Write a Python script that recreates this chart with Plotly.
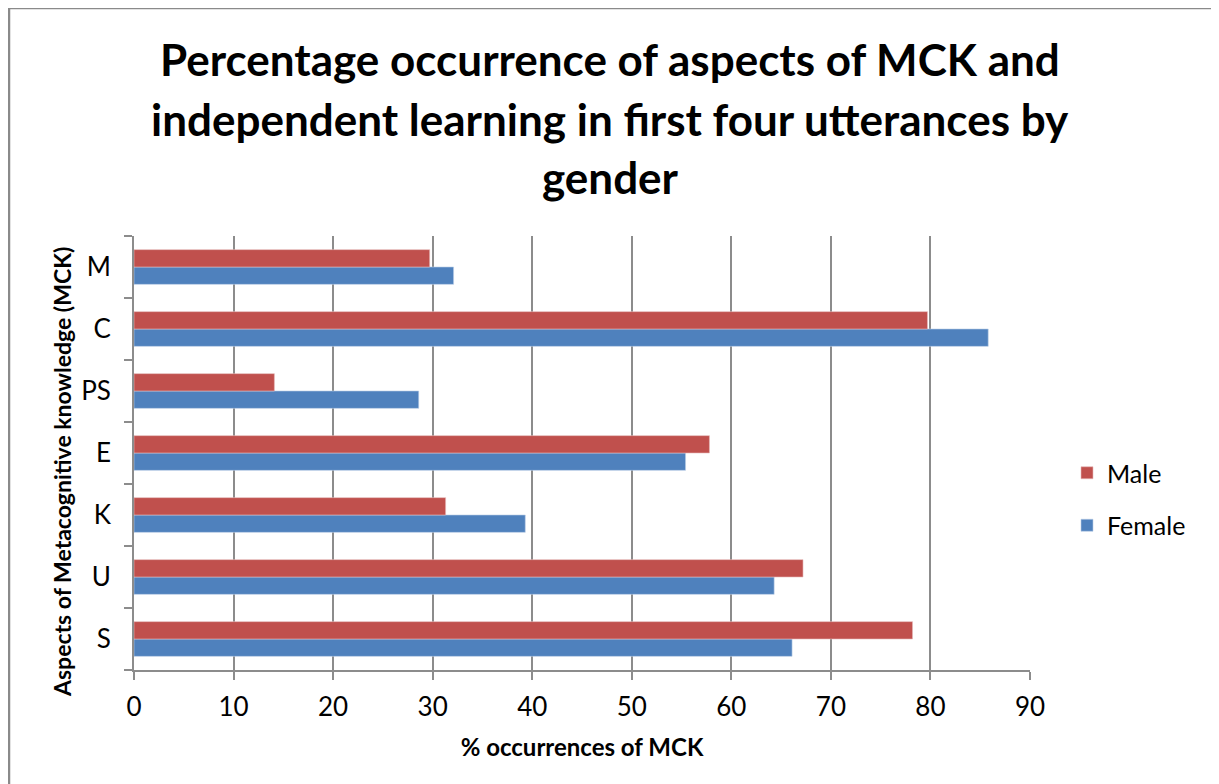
import plotly.graph_objects as go

aspects = ["S", "U", "K", "E", "PS", "C", "M"]
female = [66.1, 64.3, 39.3, 55.4, 28.6, 85.8, 32.1]
male = [78.2, 67.2, 31.3, 57.8, 14.1, 79.7, 29.7]
x_ticks = [0, 10, 20, 30, 40, 50, 60, 70, 80, 90]

FEMALE_COLOR = "#4F81BD"
MALE_COLOR = "#C0504D"
GRID = "#8C8C8C"
FONT = "Lato, Carlito, 'Open Sans', sans-serif"

# plot area in figure pixels (page body adds an 8px offset)
L, R, T, B = 126, 1022, 228, 662
W, H = R - L, B - T


def px(x):
    return (x - L) / W


def py(y):
    return (B - y) / H


fig = go.Figure()
fig.add_trace(go.Bar(
    y=aspects, x=female, orientation="h", name="Female",
    marker_color=FEMALE_COLOR, marker_line=dict(color="#B9CDE5", width=0.6),
    legendgroup="f", legendrank=2))
fig.add_trace(go.Bar(
    y=aspects, x=male, orientation="h", name="Male",
    marker_color=MALE_COLOR, marker_line=dict(color="#E6B9B8", width=0.6),
    legendgroup="m", legendrank=1))

title_lines = [
    "Percentage occurrence of aspects of MCK and",
    "independent learning in first four utterances by",
    "gender",
]
title_y = [51, 111, 169]
for line, ty in zip(title_lines, title_y):
    fig.add_annotation(
        text=f"<b>{line}</b>", xref="paper", yref="paper",
        x=px(602), y=py(ty), showarrow=False,
        xanchor="center", yanchor="middle",
        font=dict(family=FONT, size=44, color="black"))

fig.add_annotation(
    text="<b>Aspects of Metacognitive knowledge (MCK)</b>", xref="paper", yref="paper",
    x=px(54), y=py(464), showarrow=False, textangle=-90,
    xanchor="center", yanchor="middle", font=dict(family=FONT, size=23, color="black"))

# outer chart frame
fig.add_shape(type="rect", xref="paper", yref="paper",
              x0=px(1), x1=px(1205), y0=py(800), y1=py(0),
              line=dict(color="#8A8A8A", width=2.5), layer="below")

fig.update_layout(
    width=1211, height=776,
    barmode="group", bargap=0.44, bargroupgap=0,
    plot_bgcolor="white", paper_bgcolor="white",
    margin=dict(l=L, r=1211 - R, t=T, b=776 - B),
    font=dict(family=FONT, size=26, color="black"),
    legend=dict(
        x=px(1059), y=py(491), xanchor="left", yanchor="middle",
        traceorder="grouped", tracegroupgap=17,
        font=dict(size=25), itemwidth=30),
    xaxis=dict(
        range=[0, 90], tickvals=x_ticks, showgrid=True, gridcolor=GRID, gridwidth=1.8,
        showline=True, linecolor=GRID, linewidth=1.8, mirror=False,
        ticks="outside", ticklen=8, tickcolor=GRID, tickwidth=1.8,
        tickfont=dict(size=26), zeroline=False, ticklabelstandoff=5,
        title=dict(text="<b>% occurrences of MCK</b>", font=dict(size=24), standoff=18)),
    yaxis=dict(
        showgrid=False, showline=True, linecolor=GRID, linewidth=1.8,
        ticks="outside", ticklen=8, tickcolor=GRID, tickwidth=1.8,
        tickson="boundaries", tickfont=dict(size=26), ticklabelstandoff=16),
)

fig.write_html("out.html")
